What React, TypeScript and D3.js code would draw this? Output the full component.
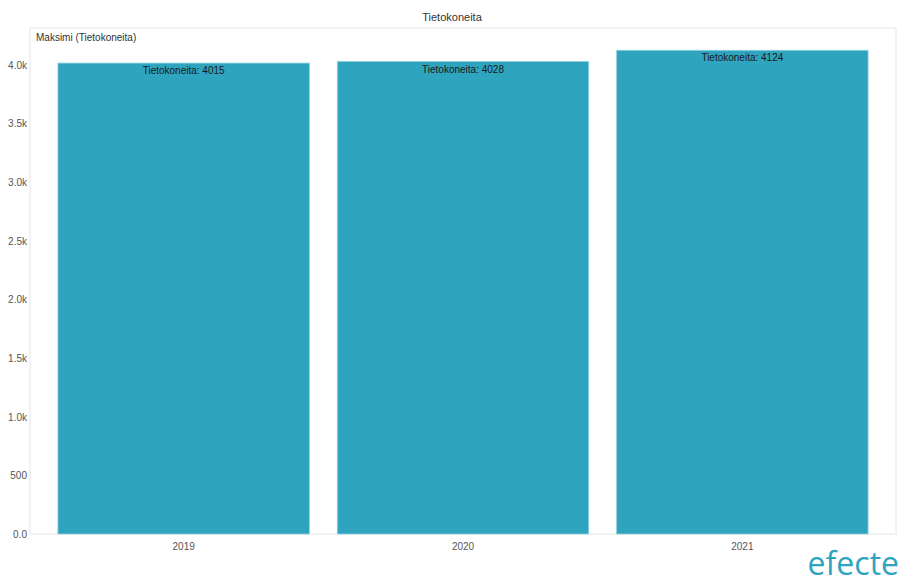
import React from "react";
import * as d3 from "d3";

const years = ["2019", "2020", "2021"];
const maxValues = [4015, 4028, 4124];
const yTicks = [0, 500, 1000, 1500, 2000, 2500, 3000, 3500, 4000];
const seriesName = "Tietokoneita";

const W = 904;
const H = 584;
const plot = { left: 30, right: 896, top: 28, bottom: 534 };

export default function App() {
  const x = d3
    .scaleBand<string>()
    .domain(years)
    .range([plot.left, plot.right])
    .paddingInner(0.1)
    .paddingOuter(0.1);
  const y = d3.scaleLinear().domain([0, 4314]).range([plot.bottom, plot.top]);
  const fmt = (v: number) => (v === 0 ? "0.0" : v < 1000 ? String(v) : (v / 1000).toFixed(1) + "k");
  const font = "'Liberation Sans', Arial, sans-serif";

  return (
    <svg
      width={W}
      height={H}
      style={{ position: "absolute", left: 0, top: 0, background: "#fff" }}
      fontFamily={font}
    >
      <text x={W / 2} y={21} textAnchor="middle" fontSize={11} fill="#333">
        {seriesName}
      </text>
      <rect
        x={plot.left}
        y={plot.top}
        width={plot.right - plot.left}
        height={plot.bottom - plot.top}
        fill="none"
        stroke="#e6e6e6"
        strokeWidth={1}
      />
      <text x={36} y={41} fontSize={10} fill="#333">
        Maksimi (Tietokoneita)
      </text>
      {yTicks.map((t) => (
        <text key={t} x={27} y={y(t) + 4} textAnchor="end" fontSize={10} fill="#555">
          {fmt(t)}
        </text>
      ))}
      {years.map((yr, i) => (
        <g key={yr}>
          <rect
            x={x(yr)!}
            y={y(maxValues[i])}
            width={x.bandwidth()}
            height={y(0) - y(maxValues[i])}
            fill="#2fa4bf"
            stroke="#8fd0de"
            strokeWidth={0.8}
          />
          <text
            x={x(yr)! + x.bandwidth() / 2}
            y={y(maxValues[i]) + 11}
            textAnchor="middle"
            fontSize={10}
            fill="#1a1a1a"
          >
            {`${seriesName}: ${maxValues[i]}`}
          </text>
          <text
            x={x(yr)! + x.bandwidth() / 2}
            y={550}
            textAnchor="middle"
            fontSize={10}
            fill="#555"
          >
            {yr}
          </text>
        </g>
      ))}
      <text
        x={899}
        y={575}
        textAnchor="end"
        fontSize={32}
        fill="#2fa4bf"
        fontFamily="'Open Sans', 'Noto Sans', sans-serif"
      >
        efecte
      </text>
    </svg>
  );
}
